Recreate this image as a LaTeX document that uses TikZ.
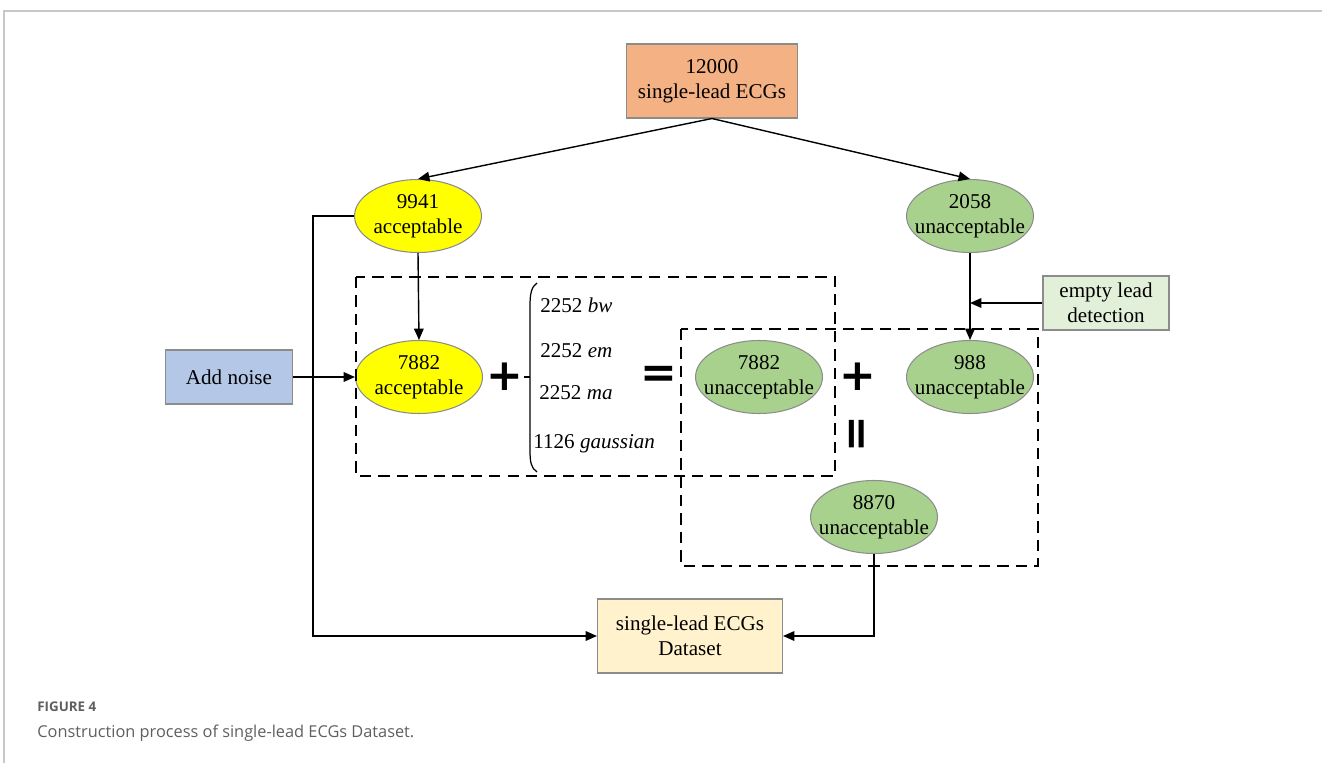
\documentclass[tikz,border=0pt]{standalone}
\usepackage{fontspec}
\setmainfont{Liberation Serif}
\newfontfamily\capfont{Open Sans}
\newfontfamily\signfont{DejaVu Sans}
\usetikzlibrary{arrows.meta, shapes.geometric}

\definecolor{fillorange}{RGB}{244,177,131}
\definecolor{fillyellow}{RGB}{255,255,0}
\definecolor{fillgreen}{RGB}{169,209,142}
\definecolor{fillblue}{RGB}{180,199,231}
\definecolor{filllight}{RGB}{226,240,217}
\definecolor{fillcream}{RGB}{255,242,204}
\definecolor{edgegray}{RGB}{140,140,140}
\definecolor{framegray}{RGB}{200,200,200}
\definecolor{captiongray}{RGB}{95,95,95}

\tikzset{
	txt/.style={font=\fontsize{12}{14.2}\selectfont, align=center, inner sep=0pt},
	flowbox/.style={txt, rectangle, draw=edgegray, line width=0.6pt},
	blob/.style={txt, ellipse, draw=edgegray, line width=0.6pt, inner xsep=-6.5pt, inner ysep=0pt, minimum width=2.54cm, minimum height=1.46cm},
	sign/.style={font=\signfont\bfseries\fontsize{25}{25}\selectfont, inner sep=0pt},
	arr/.style={-{Triangle[length=6.5pt,width=5.5pt]}, line width=0.8pt},
	group/.style={dashed, dash pattern=on 6.5pt off 4pt, line width=0.8pt}
}

\begin{document}
\begin{tikzpicture}[x=0.02cm, y=-0.02cm]
	\useasboundingbox (0,0) rectangle (1322,763);
	%page frame
	\draw[framegray, line width=1.2pt] (4,763) -- (4,11) -- (1322,11);

	%boxes
	\node[flowbox, fill=fillorange, minimum width=3.42cm, minimum height=1.48cm] (ecgs) at (712,81) {12000\\single-lead ECGs};
	\node[flowbox, fill=fillblue, minimum width=2.54cm, minimum height=1.08cm] (noise) at (229,377) {Add noise};
	\node[flowbox, fill=filllight, minimum width=2.52cm, minimum height=1.08cm] (emptylead) at (1106,303) {empty lead\\detection};
	\node[flowbox, fill=fillcream, minimum width=3.7cm, minimum height=1.48cm] (dataset) at (690,636) {single-lead ECGs\\Dataset};

	%ellipses
	\node[blob, fill=fillyellow] (acc9941) at (418,216) {9941\\acceptable};
	\node[blob, fill=fillgreen] (unacc2058) at (970,216) {2058\\unacceptable};
	\node[blob, fill=fillyellow] (acc7882) at (419,377) {7882\\acceptable};
	\node[blob, fill=fillgreen] (unacc7882) at (759,377) {7882\\unacceptable};
	\node[blob, fill=fillgreen] (unacc988) at (970,377) {988\\unacceptable};
	\node[blob, fill=fillgreen] (unacc8870) at (874,517) {8870\\unacceptable};

	%signs
	\node[sign] (plusA) at (505,377) {+};
	\node[sign] (equalA) at (659,377) {=};
	\node[sign] (plusB) at (858,377) {+};
	\node[sign, rotate=90] (equalB) at (860,434) {=};

	%noise types
	\draw[line width=0.7pt] (537,283) .. controls (531,287) and (530,295) .. (530,306) -- (530,450) .. controls (530,462) and (531,468) .. (537,472);
	\draw[line width=0.7pt] (plusA.east) -- (530,377);
	\node[txt, anchor=base west] (bw) at (540,313) {2252 \textit{bw}};
	\node[txt, anchor=base west] (em) at (540,358) {2252 \textit{em}};
	\node[txt, anchor=base west] (ma) at (539,399) {2252 \textit{ma}};
	\node[txt, anchor=base west] (gauss) at (533,448) {1126 \textit{gaussian}};

	%dashed groups
	\draw[group] (356,277) rectangle (835,476);
	\draw[group] (681,329) rectangle (1038,566);

	%arrows
	\draw[arr] (ecgs.south) -- (acc9941.north);
	\draw[arr] (ecgs.south) -- (unacc2058.north);
	\draw[arr] (acc9941.south) -- (acc7882.north);
	\draw[arr] (noise.east) -- (acc7882.west);
	\draw[arr] (unacc2058.south) -- (unacc988.north);
	\draw[arr] (emptylead.west) -- (emptylead.west -| unacc2058.south);
	\draw[arr] (acc9941.west) -- (313,216) |- (dataset.west);
	\draw[arr] (unacc8870.south) |- (dataset.east);

	%caption
	\node[anchor=base west, inner sep=0pt, text=captiongray, font=\capfont\bfseries\fontsize{7.6}{9}\selectfont] (fignum) at (37,711) {FIGURE 4};
	\node[anchor=base west, inner sep=0pt, text=captiongray, font=\capfont\fontsize{9.3}{11}\selectfont] (figcap) at (37,737) {Construction process of single-lead ECGs Dataset.};
\end{tikzpicture}
\end{document}
